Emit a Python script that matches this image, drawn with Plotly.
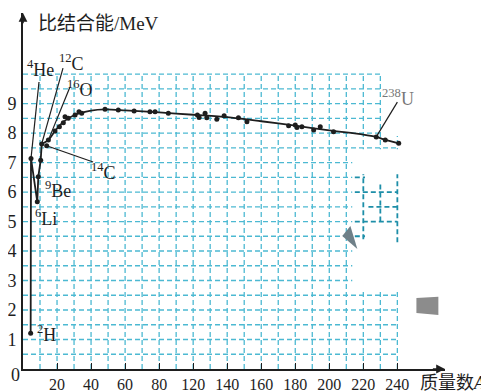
import plotly.graph_objects as go

# ---------------- data (axis units) ----------------
# smooth binding-energy curve
curve_A = [4.5, 4.7, 8.4, 9.0, 10.4, 11.0, 14.9, 18.8, 23.7, 30.6, 40.0, 48.2, 60.0,
           80.0, 100.0, 120.0, 140.0, 160.0, 180.0, 200.0, 207.6, 212.9, 220.8]
curve_E = [1.21, 7.14, 5.67, 6.52, 7.08, 7.63, 7.76, 8.07, 8.38, 8.62, 8.76, 8.80, 8.77,
           8.70, 8.62, 8.54, 8.40, 8.25, 8.09, 7.95, 7.87, 7.77, 7.65]

# measured nuclides (dots)
pts_A = [4.5, 4.7, 8.4, 9.0, 10.4, 11.0, 13.9, 14.9, 18.8, 21.4, 23.7, 24.7, 26.6, 30.6,
         32.9, 34.5, 48.2, 56.0, 65.3, 74.6, 77.6, 85.4, 102.5, 103.5, 107.0, 108.0,
         113.9, 118.2, 126.6, 131.6, 156.1, 160.0, 161.0, 163.9, 170.8, 174.7, 182.5,
         207.6, 212.9, 220.8]
pts_E = [1.21, 7.14, 5.67, 6.52, 7.08, 7.63, 7.57, 7.76, 8.07, 8.21, 8.35, 8.55, 8.50, 8.61,
         8.72, 8.67, 8.81, 8.78, 8.75, 8.72, 8.72, 8.67, 8.61, 8.53, 8.67, 8.52,
         8.47, 8.59, 8.52, 8.38, 8.25, 8.27, 8.19, 8.21, 8.10, 8.21, 8.04,
         7.87, 7.76, 7.65]

# labelled nuclides: text and the dot each leader line points to
nuclide_text = ["<sup>4</sup>He", "<sup>12</sup>C", "<sup>16</sup>O", "<sup>14</sup>C",
                "<sup>9</sup>Be", "<sup>6</sup>Li", "<sup>2</sup>H", "<sup>238</sup>U"]
nuclide_A = [4.7, 11.0, 14.9, 13.9, 9.0, 8.4, 4.5, 207.6]
nuclide_E = [7.14, 7.63, 7.76, 7.57, 6.52, 5.67, 1.21, 7.87]

# x tick labels as printed (the original skips "100")
x_tickvals = [20, 40, 60, 80, 100, 120, 140, 160, 180, 200, 220]
x_ticktext = ["20", "40", "60", "80", "120", "140", "160", "180", "200", "220", "240"]
y_tickvals = [1, 2, 3, 4, 5, 6, 7, 8, 9]

# ---------------- layout constants ----------------
X_MAX, Y_MAX = 248, 12.07
GRID_X_MAX, GRID_Y_MAX = 220, 10
GRID_DX, GRID_DY = 10, 0.5
FONT = "Liberation Serif, Noto Sans CJK SC, serif"
INK = "#1e1e1e"
GRID_COLOR = "#4cb9d2"

# label placement (text centre) and leader-line start, per nuclide
label_pos = [(10.0, 10.2), (28.5, 10.4), (33.5, 9.52), (47.5, 6.68),
             (20.3, 6.07), (13.8, 5.15), (14.1, 1.22), (220.6, 9.22)]
leader_start = [(9.4, 9.73), (23.5, 10.2), (27.6, 9.56), (41.2, 7.02),
                None, None, None, (220.0, 9.05)]

fig = go.Figure()

shapes = []
# dashed cyan grid
n_cols = int(GRID_X_MAX / GRID_DX)
for i in range(1, n_cols + 1):
    xv = i * GRID_DX
    shapes.append(dict(type="line", xref="x", yref="y", x0=xv, x1=xv, y0=0, y1=GRID_Y_MAX,
                       line=dict(color=GRID_COLOR, width=1.3, dash="5px,3px"), layer="below"))
n_rows = int(GRID_Y_MAX / GRID_DY)
for j in range(1, n_rows + 1):
    yv = j * GRID_DY
    shapes.append(dict(type="line", xref="x", yref="y", x0=0, x1=GRID_X_MAX, y0=yv, y1=yv,
                       line=dict(color=GRID_COLOR, width=1.3, dash="5px,3px"), layer="below"))

# scan artefacts: washed-out patches
shapes.append(dict(type="rect", xref="x", yref="y", x0=193.5, x1=224, y0=2.65, y1=7.45,
                   fillcolor="white", line=dict(width=0), layer="below"))
shapes.append(dict(type="rect", xref="x", yref="y", x0=211, x1=224, y0=7.9, y1=10.3,
                   fillcolor="white", line=dict(width=0), layer="below"))
# darker grid fragments inside the patch
dark = "#1d8ea8"
for (x0, x1, y0, y1) in [(200, 200, 4.4, 6.6), (210, 210, 5.0, 6.3), (220, 220, 4.3, 6.6),
                         (195, 201, 6.5, 6.5), (195, 220, 6.0, 6.0), (203, 220, 5.5, 5.5),
                         (195, 220, 5.0, 5.0), (195, 201, 4.5, 4.5)]:
    shapes.append(dict(type="line", xref="x", yref="y", x0=x0, x1=x1, y0=y0, y1=y1,
                       line=dict(color=dark, width=1.8, dash="5px,3px"), layer="below"))
shapes.append(dict(type="path", xref="x", yref="y",
                   path="M 187.6 4.51 L 192.4 4.85 L 196.5 4.07 Z",
                   fillcolor="#6f8088", line=dict(width=0), layer="below"))
shapes.append(dict(type="path", xref="x", yref="y",
                   path="M 231.2 2.41 L 244.1 2.45 L 244.1 1.83 L 231.2 1.90 Z",
                   fillcolor="#8c8c8c", line=dict(width=0), layer="below"))

# leader lines
for k, st in enumerate(leader_start):
    if st is None:
        continue
    shapes.append(dict(type="line", xref="x", yref="y", x0=st[0], y0=st[1],
                       x1=nuclide_A[k], y1=nuclide_E[k],
                       line=dict(color=INK, width=1.2)))

fig.add_trace(go.Scatter(x=curve_A[:6], y=curve_E[:6], mode="lines",
                         line=dict(color=INK, width=1.8), hoverinfo="skip", showlegend=False))
fig.add_trace(go.Scatter(x=curve_A[5:], y=curve_E[5:], mode="lines",
                         line=dict(color=INK, width=1.8, shape="spline", smoothing=0.8),
                         hoverinfo="skip", showlegend=False))
fig.add_trace(go.Scatter(x=pts_A, y=pts_E, mode="markers",
                         marker=dict(color=INK, size=5), showlegend=False))

annotations = []
for k, txt in enumerate(nuclide_text):
    annotations.append(dict(x=label_pos[k][0], y=label_pos[k][1], xref="x", yref="y",
                            xanchor="center", yanchor="middle",
                            text=txt, showarrow=False,
                            font=dict(family=FONT, size=18,
                                      color="#777777" if k == len(nuclide_text) - 1 else INK)))
# axis arrows
annotations.append(dict(x=X_MAX, y=0, ax=X_MAX - 8, ay=0, xref="x", yref="y", axref="x",
                        ayref="y", text="", showarrow=True, arrowhead=2, arrowsize=1.1,
                        arrowwidth=1.6, arrowcolor=INK))
annotations.append(dict(x=0, y=Y_MAX, ax=0, ay=Y_MAX - 0.4, xref="x", yref="y", axref="x",
                        ayref="y", text="", showarrow=True, arrowhead=2, arrowsize=1.1,
                        arrowwidth=1.6, arrowcolor=INK))
# axis titles and origin (paper coordinates, since they sit outside the axis ranges)
annotations.append(dict(x=44.5 / X_MAX, y=11.73 / Y_MAX, xref="paper", yref="paper",
                        xanchor="center", yanchor="middle", text="比结合能/MeV",
                        showarrow=False, font=dict(family=FONT, size=19, color=INK)))
annotations.append(dict(x=252.6 / X_MAX, y=-0.47 / Y_MAX, xref="paper", yref="paper",
                        xanchor="center", yanchor="middle", text="质量数<i>A</i>",
                        showarrow=False, font=dict(family=FONT, size=18, color=INK)))
annotations.append(dict(x=-4.7 / X_MAX, y=-0.2 / Y_MAX, xref="paper", yref="paper",
                        xanchor="center", yanchor="middle", text="0", showarrow=False,
                        font=dict(family=FONT, size=18, color=INK)))

# the page body adds an 8 px offset, so the figure is drawn 8 px smaller
fig.update_layout(
    width=481, height=384,
    margin=dict(l=15, r=44, t=5, b=23, pad=0, autoexpand=False),
    paper_bgcolor="white", plot_bgcolor="white",
    font=dict(family=FONT),
    shapes=shapes, annotations=annotations,
    xaxis=dict(range=[0, X_MAX], automargin=False, showline=True, linecolor=INK, linewidth=1.6,
               showgrid=False, zeroline=False, tickvals=x_tickvals, ticktext=x_ticktext,
               ticks="inside", ticklen=6, tickwidth=1.4, tickcolor=INK,
               tickfont=dict(family=FONT, size=16, color=INK), ticklabelstandoff=0),
    yaxis=dict(range=[0, Y_MAX], automargin=False, showline=True, linecolor=INK, linewidth=1.6,
               showgrid=False, zeroline=False, tickvals=y_tickvals, ticks="",
               tickfont=dict(family=FONT, size=18, color=INK), ticklabelstandoff=1),
)

fig.write_html("out.html")
